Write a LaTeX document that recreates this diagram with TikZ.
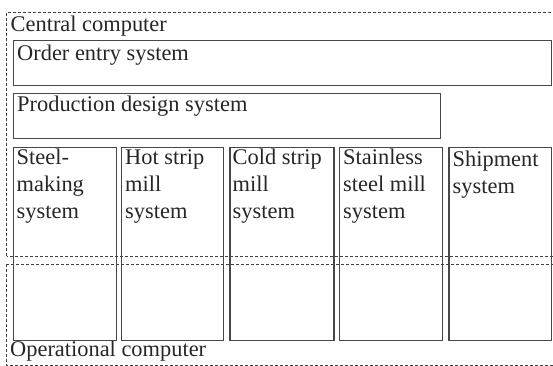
\documentclass[tikz,border=0pt]{standalone}
\usepackage{fontspec}
\setmainfont{Liberation Serif}
\begin{document}
\begin{tikzpicture}[x=1pt,y=-1pt,
  frame/.style={draw=black!75, line width=0.8pt, dash pattern=on 3pt off 2pt},
  sysbox/.style={draw=black!72, line width=1.3pt, inner sep=0pt, anchor=north west},
  lbl/.style={inner sep=0pt, anchor=north west, align=left,
    font={\fontsize{22.4}{27}\selectfont}, text=black!85}]
\useasboundingbox (0,0) rectangle (553,365);
% computer frames (right and bottom edges lie at the page border)
\draw[frame] (6.5,256) -- (6.5,12.5) -- (553.8,12.5) -- (553.8,256) -- cycle;
\draw[frame] (6.5,264) -- (6.5,365.3) -- (553.8,365.3) -- (553.8,264) -- cycle;
\node[lbl] (cc) at (10.5,31.5-18.9) {\strut Central computer};
\node[lbl] (oc) at (10,356-18.9) {\strut Operational computer};
% central systems
\node[sysbox, minimum width=538pt, minimum height=45pt] (order) at (12.5,39.5) {};
\node[sysbox, minimum width=427.5pt, minimum height=45pt] (prod) at (12.5,92.5) {};
\node[lbl] at (17,60.5-18.9) {\strut Order entry system};
\node[lbl] at (17,111.5-18.9) {\strut Production design system};
% plant systems
\foreach \nm/\xa/\xb in {steel/12.5/115.5, hot/120.8/223, cold/229.3/333.3, stain/338.5/441.5, ship/448.3/550.5}{
  \node[sysbox, minimum width={\xb-\xa}, minimum height=193pt] (\nm) at (\xa,147) {};
}
\node[lbl] at (16.5,164-18.9) {\strut Steel-\\making\\system};
\node[lbl] at (125,164-18.9) {\strut Hot strip\\mill\\system};
\node[lbl] at (232.5,164-18.9) {\strut Cold strip\\mill\\system};
\node[lbl] at (343,164-18.9) {\strut Stainless\\steel mill\\system};
\node[lbl] at (452.5,166.5-18.9) {\strut Shipment\\system};
\end{tikzpicture}
\end{document}
